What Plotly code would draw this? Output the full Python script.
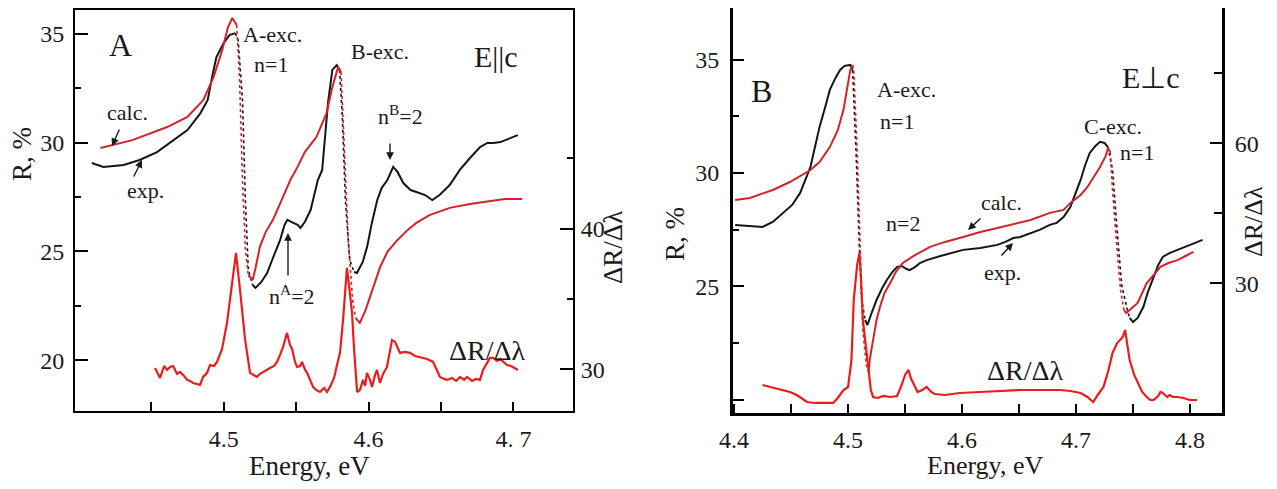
import plotly.graph_objects as go

# ---------------- data ----------------
# Panel A : E || c
a_exp_E = [4.409, 4.417, 4.431, 4.442, 4.454, 4.465, 4.475, 4.484, 4.489, 4.492, 4.495, 4.500, 4.504, 4.508, 4.510,
           4.513, 4.515, 4.517, 4.520, 4.522, 4.526, 4.530, 4.534, 4.539, 4.542, 4.544, 4.547, 4.551, 4.553, 4.556,
           4.560, 4.563, 4.565, 4.568, 4.570, 4.572, 4.575, 4.578, 4.580, 4.582, 4.584, 4.587, 4.590, 4.592, 4.596,
           4.599, 4.602, 4.606, 4.609, 4.613, 4.617, 4.620, 4.624, 4.629, 4.633, 4.639, 4.644, 4.649, 4.656, 4.663,
           4.670, 4.677, 4.682, 4.686, 4.691, 4.698, 4.703]
a_exp_R = [29.06, 28.88, 28.97, 29.20, 29.56, 30.11, 30.57, 31.35, 31.95, 33.00, 33.92, 34.56, 34.93, 35.02, 34.70,
           31.95, 27.36, 24.15, 23.46, 23.33, 23.60, 24.01, 24.70, 25.53, 26.22, 26.45, 26.35, 26.22, 26.08, 26.35,
           26.90, 27.82, 28.28, 28.74, 30.11, 31.81, 33.33, 33.55, 33.33, 31.03, 27.36, 24.61, 24.06, 24.01, 24.52,
           25.21, 26.22, 27.36, 27.91, 28.28, 28.88, 28.65, 28.14, 27.82, 27.73, 27.59, 27.36, 27.59, 28.05, 28.74,
           29.29, 29.79, 29.98, 29.98, 30.02, 30.21, 30.34]

a_calc_E = [4.415, 4.437, 4.461, 4.475, 4.486, 4.493, 4.499, 4.503, 4.506, 4.509, 4.511, 4.513, 4.515, 4.517, 4.520,
            4.522, 4.525, 4.529, 4.534, 4.540, 4.546, 4.551, 4.556, 4.564, 4.571, 4.575, 4.578, 4.579, 4.581, 4.583,
            4.586, 4.589, 4.591, 4.594, 4.598, 4.601, 4.604, 4.608, 4.613, 4.620, 4.627, 4.633, 4.642, 4.656, 4.670,
            4.684, 4.694, 4.706]
a_calc_R = [29.75, 30.11, 30.71, 31.17, 31.95, 33.00, 34.24, 35.30, 35.71, 35.39, 32.87, 28.28, 25.07, 23.92, 23.69,
            24.24, 25.21, 25.89, 26.45, 27.36, 28.28, 28.88, 29.56, 30.25, 31.35, 32.55, 33.23, 33.46, 33.23, 30.11,
            25.53, 22.78, 21.95, 21.72, 22.32, 22.91, 23.60, 24.29, 24.98, 25.53, 25.99, 26.31, 26.67, 27.00, 27.18,
            27.32, 27.41, 27.41]

a_der_E = [4.4526, 4.4561, 4.4589, 4.4609, 4.4630, 4.4651, 4.4678, 4.4699, 4.4727, 4.4747, 4.4768, 4.4789, 4.4816,
           4.4837, 4.4858, 4.4885, 4.4906, 4.4933, 4.4954, 4.4989, 4.5023, 4.5058, 4.5085, 4.5113, 4.5148, 4.5182,
           4.5210, 4.5230, 4.5251, 4.5272, 4.5299, 4.5320, 4.5348, 4.5368, 4.5389, 4.5410, 4.5437, 4.5458, 4.5472,
           4.5493, 4.5507, 4.5527, 4.5541, 4.5562, 4.5576, 4.5596, 4.5617, 4.5638, 4.5665, 4.5693, 4.5713, 4.5734,
           4.5762, 4.5782, 4.5803, 4.5824, 4.5838, 4.5851, 4.5865, 4.5886, 4.5900, 4.5921, 4.5941, 4.5962, 4.5976,
           4.5989, 4.6010, 4.6024, 4.6045, 4.6058, 4.6079, 4.6100, 4.6127, 4.6148, 4.6162, 4.6183, 4.6197, 4.6217,
           4.6252, 4.6286, 4.6321, 4.6355, 4.6404, 4.6445, 4.6473, 4.6493, 4.6521, 4.6542, 4.6576, 4.6604, 4.6632,
           4.6659, 4.6680, 4.6714, 4.6742, 4.6769, 4.6790, 4.6818, 4.6838, 4.6859, 4.6887, 4.6907, 4.6928, 4.6956,
           4.6983, 4.7004, 4.7031]
a_der_V = [30.09, 29.38, 30.23, 29.95, 30.16, 30.23, 29.67, 29.81, 29.52, 29.24, 29.17, 29.02, 28.95,
           28.88, 29.45, 29.74, 30.30, 30.23, 30.52, 31.44, 33.29, 36.35, 38.26, 35.63, 32.08, 29.74,
           29.59, 29.45, 29.67, 29.81, 29.95, 30.09, 30.23, 30.52, 31.02, 31.58, 32.58, 31.73, 31.44,
           30.50, 30.16, 30.23, 30.52, 29.95, 29.74, 29.24, 28.74, 28.53, 28.38, 28.67, 28.38, 28.74,
           29.38, 30.30, 31.16, 33.51, 35.63, 37.20, 35.99, 34.00, 31.44, 28.38, 28.53, 29.24, 28.81,
           29.74, 29.24, 28.74, 29.59, 29.95, 29.02, 29.67, 30.16, 31.44, 32.08, 31.94, 31.58, 31.16,
           31.23, 31.16, 30.94, 30.87, 30.73, 30.52, 29.95, 29.45, 29.31, 29.24, 29.38, 29.17, 29.45,
           29.24, 29.45, 29.17, 29.31, 29.24, 29.95, 30.50, 30.80, 30.80, 30.59, 30.73, 30.52, 30.30,
           30.23, 30.09, 29.95]

# Panel B : E perpendicular to c
b_exp_E = [4.401, 4.414, 4.425, 4.434, 4.443, 4.451, 4.458, 4.462, 4.467, 4.471, 4.475, 4.480, 4.484, 4.489, 4.493,
           4.497, 4.502, 4.504, 4.507, 4.510, 4.512, 4.515, 4.517, 4.521, 4.525, 4.530, 4.534, 4.539, 4.543, 4.547,
           4.551, 4.554, 4.559, 4.563, 4.569, 4.581, 4.601, 4.616, 4.631, 4.638, 4.645, 4.651, 4.660, 4.668, 4.677,
           4.683, 4.689, 4.695, 4.699, 4.704, 4.708, 4.712, 4.717, 4.721, 4.725, 4.728, 4.732, 4.736, 4.740, 4.745,
           4.747, 4.750, 4.754, 4.759, 4.763, 4.768, 4.772, 4.776, 4.782, 4.789, 4.800, 4.811]
b_exp_R = [27.71, 27.66, 27.62, 27.84, 28.24, 28.59, 29.12, 29.60, 30.26, 31.14, 32.03, 32.91, 33.66, 34.19, 34.54,
           34.72, 34.76, 34.54, 31.01, 26.61, 24.40, 23.52, 23.30, 23.87, 24.40, 24.93, 25.28, 25.64, 25.86, 25.90,
           25.77, 25.72, 25.86, 26.03, 26.16, 26.34, 26.61, 26.69, 26.83, 26.96, 27.13, 27.18, 27.35, 27.49, 27.71,
           27.80, 28.06, 28.50, 29.03, 29.69, 30.35, 30.88, 31.19, 31.37, 31.32, 31.14, 30.13, 27.49, 25.06, 23.96,
           23.61, 23.43, 23.61, 24.09, 24.75, 25.42, 25.94, 26.30, 26.47, 26.61, 26.83, 27.05]

b_calc_E = [4.401, 4.414, 4.434, 4.449, 4.467, 4.475, 4.484, 4.491, 4.496, 4.499, 4.502, 4.504, 4.505, 4.508, 4.511,
            4.513, 4.516, 4.518, 4.519, 4.522, 4.525, 4.528, 4.532, 4.537, 4.542, 4.548, 4.559, 4.572, 4.585, 4.601,
            4.616, 4.631, 4.645, 4.660, 4.677, 4.689, 4.695, 4.704, 4.710, 4.717, 4.721, 4.726, 4.728, 4.730, 4.732,
            4.736, 4.739, 4.742, 4.744, 4.747, 4.754, 4.758, 4.762, 4.768, 4.774, 4.781, 4.789, 4.796, 4.803]
b_calc_R = [28.81, 28.90, 29.25, 29.60, 30.13, 30.48, 31.14, 31.89, 32.78, 33.66, 34.54, 34.76, 34.54, 31.01, 26.61,
            23.08, 21.54, 21.23, 21.76, 22.64, 23.52, 24.09, 24.71, 25.15, 25.64, 26.03, 26.39, 26.74, 26.96, 27.18,
            27.40, 27.57, 27.75, 27.93, 28.24, 28.37, 28.68, 29.03, 29.38, 29.91, 30.26, 30.75, 31.10, 30.92, 29.25,
            26.61, 24.84, 23.96, 23.83, 23.96, 24.27, 24.71, 25.15, 25.50, 25.86, 26.03, 26.16, 26.34, 26.52]

b_der_E = [4.425, 4.432, 4.440, 4.449, 4.455, 4.461, 4.464, 4.471, 4.480, 4.487, 4.491, 4.496, 4.500, 4.503, 4.505,
           4.508, 4.510, 4.511, 4.513, 4.516, 4.518, 4.520, 4.522, 4.526, 4.531, 4.537, 4.543, 4.546, 4.550, 4.553,
           4.555, 4.559, 4.561, 4.565, 4.569, 4.573, 4.576, 4.585, 4.598, 4.616, 4.633, 4.651, 4.668, 4.686, 4.695,
           4.704, 4.710, 4.715, 4.719, 4.724, 4.728, 4.732, 4.736, 4.739, 4.741, 4.743, 4.745, 4.747, 4.751, 4.754,
           4.758, 4.762, 4.765, 4.768, 4.772, 4.774, 4.776, 4.780, 4.782, 4.785, 4.789, 4.794, 4.800, 4.806]
b_der_V = [8.25, 7.82, 7.39, 6.75, 6.11, 5.04, 4.61, 4.40, 4.40, 4.40, 5.47, 7.18, 7.82, 13.61, 26.47,
           33.97, 36.54, 32.90, 22.18, 15.75, 11.47, 7.18, 5.68, 5.47, 5.90, 5.68, 5.90, 7.61, 10.40, 11.47,
           9.75, 7.82, 6.75, 7.18, 7.82, 6.75, 6.32, 6.11, 6.54, 6.75, 6.96, 7.18, 7.18, 7.18, 6.96,
           6.54, 5.68, 4.61, 6.11, 7.82, 11.04, 15.11, 17.25, 17.90, 18.54, 20.04, 16.82, 13.61, 10.40, 8.68,
           6.75, 5.68, 5.04, 5.04, 5.90, 6.75, 6.54, 5.68, 6.11, 5.68, 5.68, 5.47, 5.04, 5.04]

a_xticks = [4.5, 4.6, 4.7]
a_xtext = ["4.5", "4.6", "4. 7"]
b_xticks = [4.4, 4.5, 4.6, 4.7, 4.8]
b_xtext = ["4.4", "4.5", "4.6", "4.7", "4.8"]

# ---------------- styling ----------------
# The page body keeps its default 8 px margin, so the figure is made smaller and
# every layout position below is given in window pixels and shifted by that margin.
PAGE_W, PAGE_H = 1277, 489
OFF = 8
W, H = PAGE_W - 2 * OFF, PAGE_H - 2 * OFF
FONT = "Liberation Serif"
BLACK = "#151515"
RED_CALC = "#d2232a"
RED_DER = "#ec1c1c"

fig = go.Figure()


def add_curve(E, R, color, xa, ya, width=2.0):
    """Solid curve, with the steep falling parts drawn dotted (as in the original)."""
    steep = []
    for i in range(len(E) - 1):
        slope = (R[i + 1] - R[i]) / (E[i + 1] - E[i])
        steep.append(slope < -150)
    i = 0
    while i < len(steep):
        j = i
        while j + 1 < len(steep) and steep[j + 1] == steep[i]:
            j += 1
        xs = E[i:j + 2]
        ys = R[i:j + 2]
        if steep[i]:
            line = dict(color=color, width=1.6, dash="dot")
        else:
            line = dict(color=color, width=width)
        fig.add_trace(go.Scatter(x=xs, y=ys, mode="lines", line=line, xaxis=xa, yaxis=ya,
                                 hoverinfo="skip", showlegend=False))
        i = j + 1


# Panel A
add_curve(a_exp_E, a_exp_R, BLACK, "x", "y")
add_curve(a_calc_E, a_calc_R, RED_CALC, "x", "y")
fig.add_trace(go.Scatter(x=a_der_E, y=a_der_V, mode="lines", line=dict(color=RED_DER, width=2.2),
                         xaxis="x", yaxis="y2", hoverinfo="skip", showlegend=False))
# Panel B
add_curve(b_exp_E, b_exp_R, BLACK, "x2", "y3")
add_curve(b_calc_E, b_calc_R, RED_CALC, "x2", "y3")
fig.add_trace(go.Scatter(x=b_der_E, y=b_der_V, mode="lines", line=dict(color=RED_DER, width=2.2),
                         xaxis="x2", yaxis="y4", hoverinfo="skip", showlegend=False))


def ax_common(lw):
    return dict(showline=True, linecolor="black", linewidth=lw, showgrid=False, zeroline=False,
                automargin=False, ticks="inside", tickcolor="black", tickwidth=2,
                tickfont=dict(family=FONT, size=24, color="#1a1a1a"))


def fx(x):
    return (x - OFF) / W


def fy(y):
    return 1 - (y - OFF) / H


A_dom_x = [fx(75), fx(573)]
A_dom_y = [fy(411), fy(10)]
B_dom_x = [fx(733), fx(1222)]
B_dom_y = [fy(413), fy(8)]

layout = dict(
    width=W, height=H, margin=dict(l=0, r=0, t=0, b=0, autoexpand=False),
    paper_bgcolor="white", plot_bgcolor="white", showlegend=False, hovermode=False,
    font=dict(family=FONT),
    xaxis=dict(**ax_common(2), domain=A_dom_x, range=[4.3974, 4.7411], anchor="y", mirror=True,
               tickmode="array", tickvals=a_xticks, ticktext=a_xtext, ticklen=9, ticklabelstandoff=5,
               minor=dict(tickmode="array", tickvals=[4.45, 4.55, 4.65], ticks="inside", ticklen=9,
                          tickwidth=2, tickcolor="black")),
    yaxis=dict(**ax_common(2), domain=A_dom_y, range=[17.68, 36.08], anchor="x", mirror=True,
               tickmode="array", tickvals=[20, 25, 30, 35], ticklen=13, ticklabelstandoff=4,
               minor=dict(tickmode="array", tickvals=[22.5, 27.5, 32.5], ticks="inside", ticklen=6,
                          tickwidth=2, tickcolor="black")),
    yaxis2=dict(**ax_common(2), domain=A_dom_y, range=[27.03, 55.53], anchor="x", overlaying="y",
                side="right", tickmode="array", tickvals=[30, 40], ticklen=13, ticklabelstandoff=1,
                minor=dict(tickmode="array", tickvals=[35, 45], ticks="inside", ticklen=6,
                           tickwidth=2, tickcolor="black")),
    xaxis2=dict(**ax_common(3), domain=B_dom_x, range=[4.3991, 4.828], anchor="y3", mirror=True,
                tickmode="array", tickvals=b_xticks, ticktext=b_xtext, ticklen=9, ticklabelstandoff=3,
                minor=dict(tickmode="array", tickvals=[4.45, 4.55, 4.65, 4.75], ticks="inside", ticklen=9,
                           tickwidth=2, tickcolor="black")),
    yaxis3=dict(**ax_common(3), domain=B_dom_y, range=[19.42, 37.27], anchor="x2", mirror=True,
                tickmode="array", tickvals=[20, 25, 30, 35], ticktext=["", "25", "30", "35"], ticklen=11,
                ticklabelstandoff=6,
                minor=dict(tickmode="array", tickvals=[22.5, 27.5, 32.5], ticks="inside", ticklen=6,
                           tickwidth=2, tickcolor="black")),
    yaxis4=dict(**ax_common(3), domain=B_dom_y, range=[2.25, 89.03], anchor="x2", overlaying="y3",
                side="right", tickmode="array", tickvals=[30, 60], ticklen=12, ticklabelstandoff=5,
                minor=dict(tickmode="array", tickvals=[45, 75], ticks="inside", ticklen=8,
                           tickwidth=2, tickcolor="black")),
)
fig.update_layout(**layout)

anns = []


def txt(s, x, y, size=22, angle=0):
    anns.append(dict(text=s, x=fx(x), y=fy(y), xref="paper", yref="paper", showarrow=False,
                     xanchor="center", yanchor="middle", textangle=angle,
                     font=dict(family=FONT, size=size, color="#1a1a1a")))


def arrow(hx, hy, tx, ty):
    anns.append(dict(text="", x=fx(hx), y=fy(hy), xref="paper", yref="paper", showarrow=True,
                     ax=tx - hx, ay=ty - hy, axref="pixel", ayref="pixel",
                     arrowhead=2, arrowsize=1.1, arrowwidth=1.4, arrowcolor="#1a1a1a"))


# axis titles
txt("R, %", 22, 154, 27, -90)
txt("Energy, eV", 309, 466, 27)
txt("ΔR/Δλ", 613, 248, 27, -90)
txt("R, %", 675, 234, 27, -90)
txt("Energy, eV", 985, 465, 26)
txt("ΔR/Δλ", 1253, 222, 26, -90)

# panel A labels
txt("A", 120, 45, 32)
txt("A-exc.", 272, 35, 22)
txt("n=1", 271, 64, 22)
txt("B-exc.", 380, 51, 22)
txt("E||c", 496, 56, 30)
txt("n<sup>B</sup>=2", 400, 115, 22)
txt("calc.", 127, 112, 22)
txt("exp.", 145, 190, 22)
txt("n<sup>A</sup>=2", 292, 295, 22)
txt("ΔR/Δλ", 487, 350, 28)
arrow(112, 146, 120, 128)
arrow(142, 160, 133, 178)
arrow(288, 233, 288, 277)
arrow(390, 160, 390, 142)

# panel B labels
txt("B", 761, 91, 32)
txt("A-exc.", 906, 90, 22)
txt("n=1", 897, 121, 22)
txt("n=2", 903, 223, 22)
txt("C-exc.", 1113, 127, 22)
txt("n=1", 1137, 152, 22)
txt("calc.", 1001, 202, 22)
txt("exp.", 1002, 272, 22)
txt("E⊥c", 1151, 77, 30)
txt("ΔR/Δλ", 1025, 370, 28)
arrow(968, 230, 982, 217)
arrow(1013, 243, 1000, 257)

fig.update_layout(annotations=anns)
fig.write_html("out.html")
